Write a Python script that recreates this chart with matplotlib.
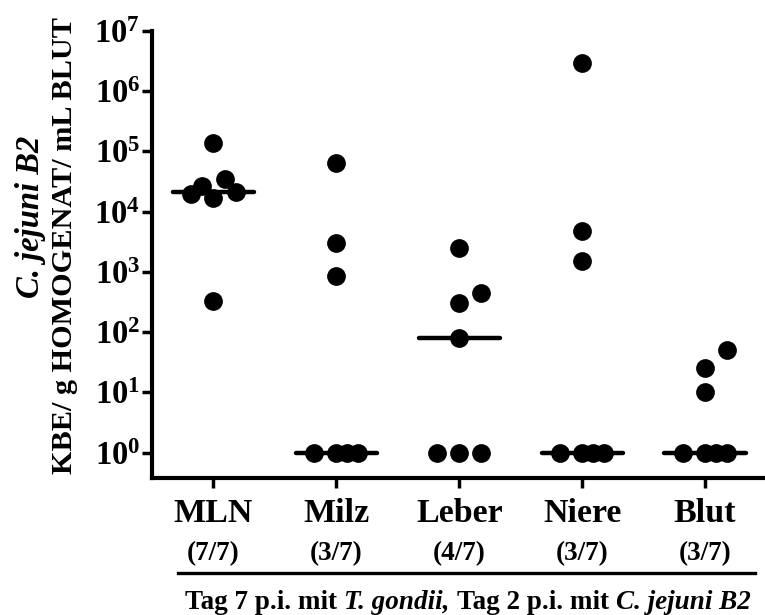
import numpy as np
import matplotlib
matplotlib.use('Agg')
import matplotlib.pyplot as plt
from matplotlib import transforms
from matplotlib.lines import Line2D
from matplotlib.ticker import NullLocator
from matplotlib.offsetbox import TextArea, HPacker, AnnotationBbox

plt.rcParams['font.family'] = 'Liberation Serif'
plt.rcParams['font.weight'] = 'bold'
plt.rcParams['mathtext.fontset'] = 'custom'
plt.rcParams['mathtext.rm'] = 'Liberation Serif:bold'
plt.rcParams['mathtext.bf'] = 'Liberation Serif:bold'
plt.rcParams['mathtext.it'] = 'Liberation Serif:bold:italic'

# Data
organs = ['MLN', 'Milz', 'Leber', 'Niere', 'Blut']
positives = ['(7/7)', '(3/7)', '(4/7)', '(3/7)', '(3/7)']
# KBE per g / mL (values below detection limit plotted as 1)
mln = [1.4e5, 3.5e4, 2.7e4, 2.0e4, 1.7e4, 2.1e4, 330]
milz = [6.5e4, 3000, 870, 1, 1, 1, 1]
leber = [2500, 450, 300, 80, 1, 1, 1]
niere = [2.9e6, 4800, 1500, 1, 1, 1, 1]
blut = [50, 25, 10, 1, 1, 1, 1]

# sideways spread of overlapping dots
mln_dx = [0, 0.09, -0.09, -0.18, 0, 0.18, 0]
milz_dx = [0, 0, 0, -0.18, 0, 0.09, 0.18]
leber_dx = [0, 0.18, 0, 0, -0.18, 0, 0.18]
niere_dx = [0, 0, 0, -0.18, 0, 0.09, 0.18]
blut_dx = [0.18, 0, 0, -0.18, 0, 0.09, 0.18]

groups = [mln, milz, leber, niere, blut]
spread = [mln_dx, milz_dx, leber_dx, niere_dx, blut_dx]

fig = plt.figure(figsize=(7.65, 6.15), dpi=100)
ax = fig.add_axes([152 / 765, 137.5 / 615, 614.5 / 765, 446.5 / 615])

for i in range(len(groups)):
    vals = np.array(groups[i])
    xs = i + np.array(spread[i])
    ax.plot(xs, vals, 'o', color='black', ms=13.5, mew=0, zorder=3, clip_on=False)
    med = np.median(vals)
    ax.plot([i - 0.33, i + 0.33], [med, med], color='black', lw=3.2,
            solid_capstyle='round', zorder=2, clip_on=False)

ax.set_yscale('log')
ax.set_ylim(10 ** -0.415, 1e7)
ax.set_xlim(-0.5, 4.5)
ax.set_yticks([10 ** k for k in range(8)])
ax.set_yticklabels([r'$10^{%d}$' % k for k in range(8)], fontsize=23.5)
ax.yaxis.set_minor_locator(NullLocator())
ax.set_xticks(range(len(organs)))
ax.set_xticklabels(organs, fontsize=24.5)

for s in ['top', 'right']:
    ax.spines[s].set_visible(False)
for s in ['left', 'bottom']:
    ax.spines[s].set_linewidth(3)
ax.tick_params(axis='both', width=2.5, length=7, color='black')
ax.tick_params(axis='x', pad=8)
ax.tick_params(axis='y', pad=1.5)

# counts under the organ names
tr = transforms.blended_transform_factory(ax.transData, fig.transFigure)
for i, p in enumerate(positives):
    ax.text(i, 0.0894, p, transform=tr, ha='center', va='baseline', fontsize=19.5)

fig.add_artist(Line2D([178 / 765, 755 / 765], [0.0683, 0.0683], color='black', lw=2.4))

# bottom caption, mixed upright / italic
parts = [('Tag 7 p.i. mit', 'normal'), ('T. gondii,', 'italic'),
         ('Tag 2 p.i. mit', 'normal'), ('C. jejuni B2', 'italic')]
boxes = [TextArea(t, textprops=dict(fontsize=19.5, style=st, weight='bold'))
         for t, st in parts]
caption = HPacker(children=boxes, pad=0, sep=5, align='baseline')
fig.add_artist(AnnotationBbox(caption, (468 / 765, 0.02), xycoords='figure fraction',
                              frameon=False, box_alignment=(0.5, 0.5)))

# y label, two lines
fig.text(31 / 765, 1 - 217 / 615, 'C. jejuni B2', rotation=90, style='italic',
         fontsize=23.5, ha='center', va='center')
fig.text(65 / 765, 1 - 245 / 615, 'KBE/ g HOMOGENAT/ mL BLUT', rotation=90,
         fontsize=21.8, ha='center', va='center')

plt.savefig('out.png', dpi=100)
